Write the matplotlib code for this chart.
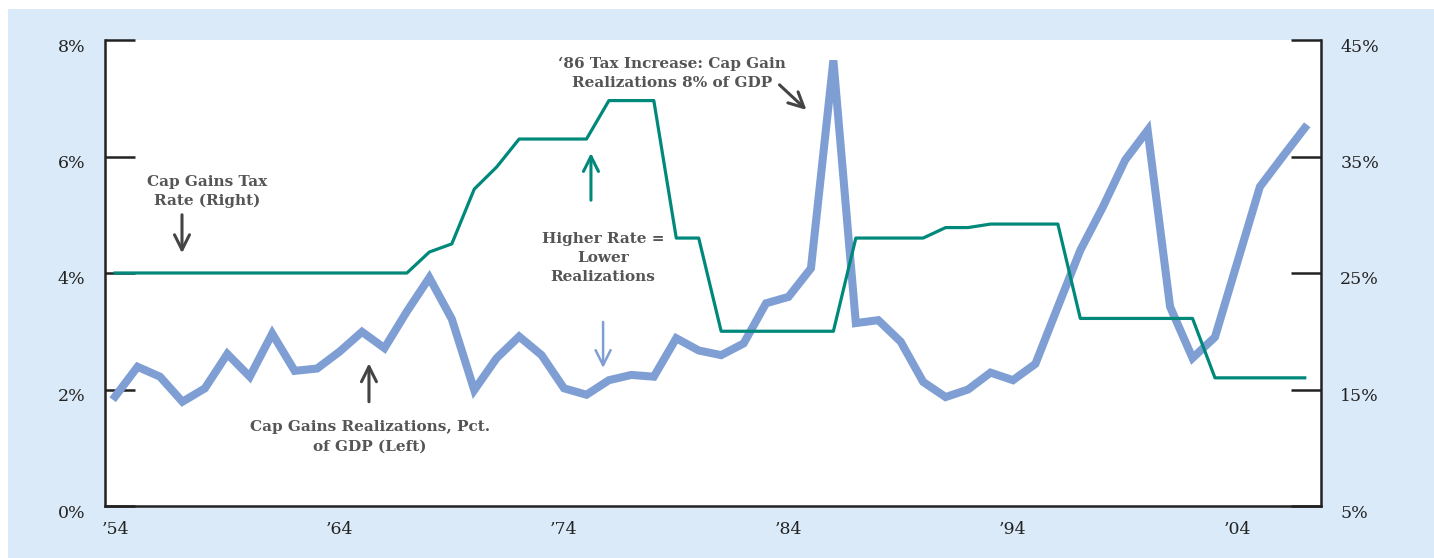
import matplotlib.pyplot as plt
import matplotlib.transforms as mtransforms
from matplotlib.patches import Rectangle

plt.rcParams['font.family'] = ['DejaVu Serif']

years = list(range(1954, 2008))
# cap gains realizations, pct of GDP (left axis)
realizations = [1.88, 2.39, 2.22, 1.79, 2.02, 2.61, 2.22, 2.96, 2.32, 2.36,
                2.65, 2.99, 2.71, 3.34, 3.92, 3.21, 1.99, 2.54, 2.91, 2.59,
                2.02, 1.91, 2.16, 2.25, 2.22, 2.88, 2.67, 2.59, 2.79, 3.48,
                3.59, 4.08, 7.65, 3.14, 3.19, 2.82, 2.13, 1.87, 2.00, 2.29,
                2.16, 2.44, 3.42, 4.39, 5.13, 5.94, 6.45, 3.42, 2.54, 2.90,
                4.19, 5.48, 5.99, 6.49]
# cap gains tax rate (right axis)
tax_rate = [25.0, 25.0, 25.0, 25.0, 25.0, 25.0, 25.0, 25.0, 25.0, 25.0,
            25.0, 25.0, 25.0, 25.0, 26.8, 27.5, 32.2, 34.1, 36.5, 36.5,
            36.5, 36.5, 39.8, 39.8, 39.8, 28.0, 28.0, 20.0, 20.0, 20.0,
            20.0, 20.0, 20.0, 28.0, 28.0, 28.0, 28.0, 28.9, 28.9, 29.2,
            29.2, 29.2, 29.2, 21.1, 21.1, 21.1, 21.1, 21.1, 21.1, 16.0,
            16.0, 16.0, 16.0, 16.0]

left_ticks = [0, 2, 4, 6, 8]
left_labels = ['0%', '2%', '4%', '6%', '8%']
right_ticks = [5, 15, 25, 35, 45]
right_labels = ['5%', '15%', '25%', '35%', '45%']
x_ticks = [1954, 1964, 1974, 1984, 1994, 2004]
x_labels = ['\u201954', '\u201964', '\u201974', '\u201984', '\u201994', '\u201904']

blue = '#7f9fd4'
green = '#00897b'
dark = '#222222'
grey = '#555555'

fig = plt.figure(figsize=(14.34, 5.58), dpi=100)
fig.patches.append(Rectangle((8 / 1434, 0), 1, 1 - 9 / 558, transform=fig.transFigure,
                             facecolor='#dbeaf8', edgecolor='none', zorder=-10))

ax = fig.add_axes([105 / 1434, 1 - 506 / 558, (1320.7 - 105) / 1434, (506 - 40) / 558])
ax.set_facecolor('white')
ax2 = ax.twinx()

ax.plot(years, realizations, color=blue, lw=5.8, solid_joinstyle='miter')
ax2.plot(years, tax_rate, color=green, lw=2.3)

ax.set_xlim(1953.55, 2007.71)
ax.set_ylim(0, 8)
ax2.set_ylim(5, 45)

ax.set_yticks(left_ticks)
ax.set_yticklabels(left_labels)
ax2.set_yticks(right_ticks)
ax2.set_yticklabels(right_labels)
ax.set_xticks(x_ticks)
ax.set_xticklabels(x_labels)

for a in (ax, ax2):
    a.spines['top'].set_visible(False)
    for s in a.spines.values():
        s.set_linewidth(1.8)
        s.set_color(dark)
ax.spines['right'].set_visible(False)
ax2.spines['left'].set_visible(False)
ax2.spines['bottom'].set_visible(False)

ax.tick_params(axis='y', direction='in', length=21.6, width=1.8, color=dark,
               pad=14, labelsize=12.5, labelcolor=dark)
ax2.tick_params(axis='y', direction='in', length=21.6, width=1.8, color=dark,
                pad=14, labelsize=12.5, labelcolor=dark)
ax.tick_params(axis='x', length=0, pad=11, labelsize=12.5, labelcolor=dark)

# tick labels sit a little below their tick marks
shift = mtransforms.ScaledTranslation(0, -5 / 100, fig.dpi_scale_trans)
for lbl in ax.get_yticklabels() + ax2.get_yticklabels():
    lbl.set_transform(lbl.get_transform() + shift)

txt = dict(ha='center', va='center', fontweight='bold', color=grey, fontsize=11, linespacing=1.45)
ax.text(1958.1, 5.40, 'Cap Gains Tax\nRate (Right)', **txt)
ax.text(1965.36, 1.19, 'Cap Gains Realizations, Pct.\nof GDP (Left)', **txt)
ax.text(1978.8, 7.43, '\u201886 Tax Increase: Cap Gain\nRealizations 8% of GDP', **txt)
ax.text(1975.74, 4.26, 'Higher Rate =\nLower\nRealizations', **txt)

def arrow(x0, y0, x1, y1, color, lw):
    ax.annotate('', xy=(x1, y1), xytext=(x0, y0),
                arrowprops=dict(arrowstyle='->, head_length=0.4, head_width=0.2',
                                color=color, lw=lw, mutation_scale=27,
                                shrinkA=0, shrinkB=0))

arrow(1956.98, 5.0, 1956.98, 4.34, '#444444', 2.2)
arrow(1965.31, 1.79, 1965.31, 2.45, '#444444', 2.2)
arrow(1983.6, 7.23, 1984.8, 6.80, '#444444', 2.2)
arrow(1975.2, 5.25, 1975.2, 6.06, green, 2.2)
arrow(1975.74, 3.16, 1975.74, 2.37, blue, 1.8)

fig.savefig('out.png', dpi=100, facecolor='white')
